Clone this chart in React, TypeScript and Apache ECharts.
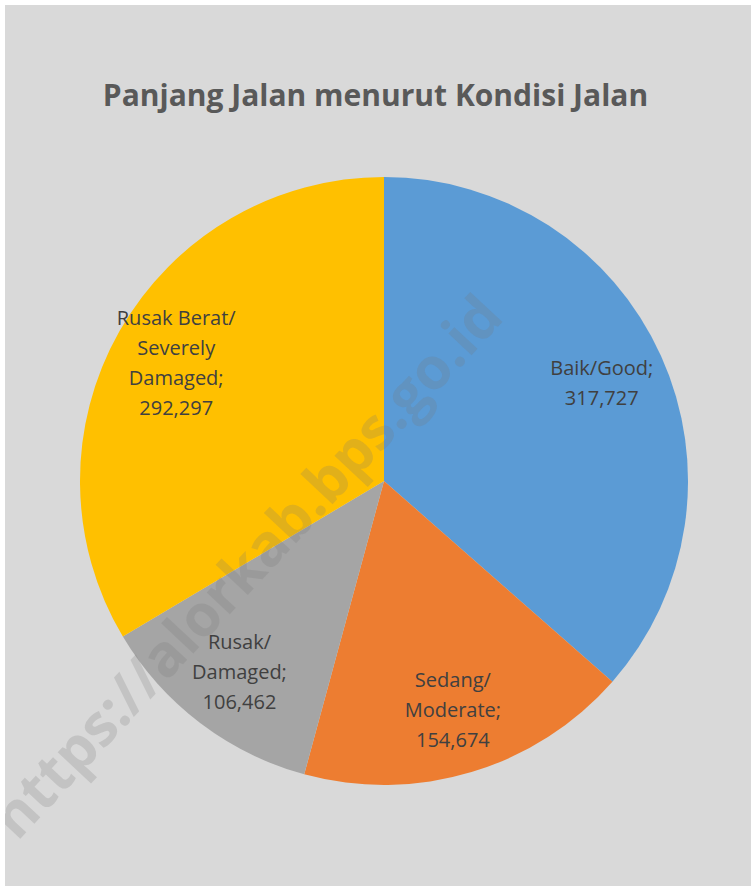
import React, { useEffect, useRef } from "react";
import * as echarts from "echarts";

const titleText = "Panjang Jalan menurut Kondisi Jalan";
const categories = [
  "Baik/Good",
  "Sedang/\nModerate",
  "Rusak/\nDamaged",
  "Rusak Berat/\nSeverely\nDamaged",
];
const values = [317727, 154674, 106462, 292297];
const colors = ["#5b9bd5", "#ed7d31", "#a5a5a5", "#ffc000"];
const watermark = "https://alorkab.bps.go.id";

const fmt = (v: number) => v.toLocaleString("en-US");

export default function App() {
  const ref = useRef<HTMLDivElement>(null);
  useEffect(() => {
    document.body.style.margin = "0";
    const chart = echarts.init(ref.current!, null, { renderer: "svg" });
    const data = categories.map((n, i) => ({ name: n, value: values[i] }));
    const font = "Open Sans, sans-serif";
    chart.setOption({
      animation: false,
      backgroundColor: "#d9d9d9",
      title: {
        text: titleText,
        left: "center",
        top: 74,
        textStyle: {
          fontFamily: font,
          fontSize: 30,
          fontWeight: "bold",
          color: "#595959",
        },
      },
      series: [
        {
          type: "pie",
          center: [384, 481],
          radius: [0, 304],
          startAngle: 90,
          clockwise: true,
          data,
          label: { show: false },
          labelLine: { show: false },
          itemStyle: {
            color: (p: any) => colors[p.dataIndex],
            borderWidth: 0,
          },
          silent: true,
        },
        {
          type: "pie",
          center: [384, 481],
          radius: [168, 304],
          startAngle: 90,
          clockwise: true,
          data,
          silent: true,
          z: 3,
          itemStyle: { color: "rgba(0,0,0,0)" },
          labelLine: { show: false },
          label: {
            show: true,
            position: "inside",
            formatter: (p: any) => `${p.name};\n${fmt(p.value)}`,
            fontFamily: font,
            fontSize: 20,
            lineHeight: 30,
            color: "#404040",
            align: "center",
          },
        },
      ],
      graphic: [
        {
          type: "text",
          x: 245,
          y: 565,
          rotation: (47 * Math.PI) / 180,
          z: 50,
          style: {
            text: watermark,
            fontFamily: font,
            fontSize: 58,
            fontWeight: "bold",
            fill: "rgba(120,120,120,0.22)",
            align: "center",
            verticalAlign: "middle",
          },
          silent: true,
        },
        {
          type: "rect",
          left: 0,
          top: 0,
          shape: { width: 751, height: 886 },
          style: { fill: "none", stroke: "#ffffff", lineWidth: 5 },
          silent: true,
          z: 100,
        },
      ],
    });
    return () => chart.dispose();
  }, []);
  return <div ref={ref} style={{ width: 751, height: 886 }} />;
}
